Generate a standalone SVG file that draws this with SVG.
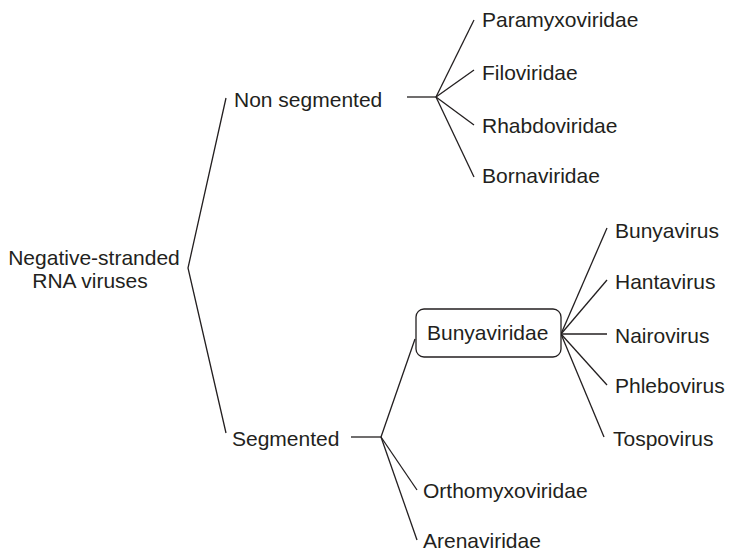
<svg xmlns="http://www.w3.org/2000/svg" width="729" height="554" viewBox="0 0 729 554">
<style>
text{font-family:"Liberation Sans",Arial,sans-serif;font-size:21px;fill:#231f20}
.c line,.c polyline{stroke:#231f20;stroke-width:1.3;fill:none}
.box{fill:#fff;stroke:#231f20;stroke-width:1.3}
</style>
<rect width="729" height="554" fill="#fff"/>
<g class="c" id="connectors">
<polyline points="226,98 188,268 226,433"/>
<line x1="407" y1="97" x2="436" y2="97"/>
<line x1="436" y1="97" x2="474" y2="20"/>
<line x1="436" y1="97" x2="474" y2="70"/>
<line x1="436" y1="97" x2="474" y2="125"/>
<line x1="436" y1="97" x2="474" y2="177"/>
<line x1="351" y1="437" x2="381" y2="437"/>
<line x1="381" y1="437" x2="415" y2="339"/>
<line x1="381" y1="437" x2="417" y2="490"/>
<line x1="381" y1="437" x2="417" y2="540"/>
<line x1="561" y1="334" x2="607" y2="228"/>
<line x1="561" y1="334" x2="607" y2="280"/>
<line x1="561" y1="334" x2="607" y2="334"/>
<line x1="561" y1="334" x2="607" y2="385"/>
<line x1="561" y1="334" x2="604" y2="437"/>
</g>
<g id="root"><text x="94" y="265" text-anchor="middle">Negative-stranded</text><text x="90" y="288" text-anchor="middle">RNA viruses</text></g>
<g id="nonseg"><text x="234" y="107">Non segmented</text></g>
<g id="seg"><text x="232" y="446">Segmented</text></g>
<g id="paramyxo"><text x="482" y="27">Paramyxoviridae</text></g>
<g id="filo"><text x="482" y="80">Filoviridae</text></g>
<g id="rhabdo"><text x="482" y="133">Rhabdoviridae</text></g>
<g id="borna"><text x="482" y="183">Bornaviridae</text></g>
<g id="bunyaviridae"><rect class="box" x="416" y="309" width="145" height="48" rx="8"/><text x="427" y="340">Bunyaviridae</text></g>
<g id="bunyavirus"><text x="615" y="238">Bunyavirus</text></g>
<g id="hantavirus"><text x="615" y="289">Hantavirus</text></g>
<g id="nairovirus"><text x="615" y="343">Nairovirus</text></g>
<g id="phlebovirus"><text x="615" y="393">Phlebovirus</text></g>
<g id="tospovirus"><text x="613" y="446">Tospovirus</text></g>
<g id="orthomyxo"><text x="423" y="498">Orthomyxoviridae</text></g>
<g id="arena"><text x="423" y="548">Arenaviridae</text></g>
</svg>
